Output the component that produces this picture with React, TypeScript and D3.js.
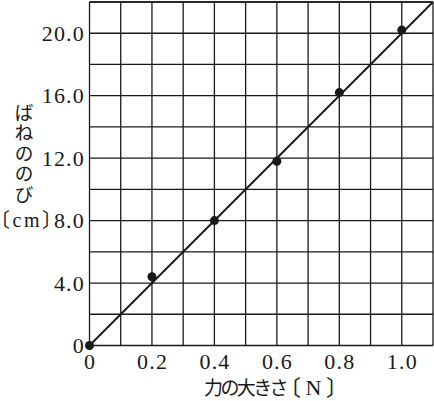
import { useEffect, useRef } from 'react';
import * as d3 from 'd3';

// measured points: force [N] vs spring extension [cm]
const forceN = [0, 0.2, 0.4, 0.6, 0.8, 1.0];
const stretchCm = [0, 4.4, 8.0, 11.8, 16.2, 20.2];
// fitted straight line (drawn through the origin)
const lineForce = [0, 1.1];
const lineStretch = [0, 22];

const xTicks = [0, 0.2, 0.4, 0.6, 0.8, 1.0];
const xTickLabels = ['0', '0.2', '0.4', '0.6', '0.8', '1.0'];
const yTicks = [0, 4, 8, 12, 16, 20];
const yTickLabels = ['0', '4.0', '8.0', '12.0', '16.0', '20.0'];
const xGrid = d3.range(0, 12).map(i => i / 10);
const yGrid = d3.range(0, 24, 2);

const yTitle = 'ばねののび';
const yUnit = '〔cm〕';
const xTitle = '力の大きさ';
const xUnit = '〔N〕';

const SERIF = '"Liberation Serif", serif';
const MIXED = '"Liberation Serif", "Noto Sans CJK JP", serif';
const JP = '"Noto Sans CJK JP", sans-serif';
const INK = '#1a1a1a';

export default function App() {
  const svgRef = useRef<SVGSVGElement>(null);

  useEffect(() => {
    document.body.style.margin = '0';
    const width = 434;
    const height = 401;

    const x = d3.scaleLinear().domain([0, 1.1]).range([89.5, 433]);
    const y = d3.scaleLinear().domain([0, 22]).range([345.5, 2]);

    const svg = d3.select(svgRef.current);
    svg.selectAll('*').remove();
    svg.attr('width', width).attr('height', height);

    // Grid
    const grid = svg.append('g').attr('stroke', INK).attr('stroke-width', 1.3);
    grid
      .selectAll('line.v')
      .data(xGrid)
      .enter()
      .append('line')
      .attr('x1', d => x(d))
      .attr('x2', d => x(d))
      .attr('y1', y(0))
      .attr('y2', y(22));
    grid
      .selectAll('line.h')
      .data(yGrid.concat([22]))
      .enter()
      .append('line')
      .attr('x1', x(0))
      .attr('x2', x(1.1))
      .attr('y1', d => y(d))
      .attr('y2', d => y(d));

    // Fitted line
    const line = d3
      .line<number>()
      .x(d => x(lineForce[d]))
      .y(d => y(lineStretch[d]));
    svg
      .append('path')
      .attr('d', line([0, 1]))
      .attr('fill', 'none')
      .attr('stroke', INK)
      .attr('stroke-width', 2);

    // Points
    svg
      .append('g')
      .selectAll('circle')
      .data(forceN)
      .enter()
      .append('circle')
      .attr('cx', d => x(d))
      .attr('cy', (_, i) => y(stretchCm[i]))
      .attr('r', 4.5)
      .attr('fill', INK);

    // Y tick labels
    svg
      .append('g')
      .selectAll('text')
      .data(yTicks)
      .enter()
      .append('text')
      .attr('x', 85)
      .attr('y', d => y(d))
      .attr('dy', '0.34em')
      .attr('text-anchor', 'end')
      .attr('font-family', SERIF)
      .attr('font-size', 22)
      .attr('letter-spacing', 1.2)
      .attr('fill', INK)
      .text((_, i) => yTickLabels[i]);

    // X tick labels
    svg
      .append('g')
      .selectAll('text')
      .data(xTicks)
      .enter()
      .append('text')
      .attr('x', d => x(d) + 0.6)
      .attr('y', 369)
      .attr('text-anchor', 'middle')
      .attr('font-family', SERIF)
      .attr('font-size', 22)
      .attr('letter-spacing', 1.2)
      .attr('fill', INK)
      .text((_, i) => xTickLabels[i]);

    // Y title, written top to bottom
    svg
      .append('text')
      .attr('x', 24)
      .attr('y', 103)
      .attr('writing-mode', 'vertical-rl')
      .attr('font-family', JP)
      .attr('font-size', 19)
      .attr('letter-spacing', 1.5)
      .attr('fill', INK)
      .text(yTitle);

    // half-width brackets keep the unit compact
    svg
      .append('text')
      .attr('x', 0)
      .attr('y', 227)
      .attr('font-family', MIXED)
      .attr('font-size', 20)
      .attr('letter-spacing', 2.5)
      .style('font-feature-settings', '"halt"')
      .attr('fill', INK)
      .text(yUnit);

    // X title
    const xt = svg
      .append('text')
      .attr('x', 204)
      .attr('y', 395)
      .attr('fill', INK);
    xt.append('tspan')
      .attr('font-family', JP)
      .attr('font-size', 19)
      .attr('letter-spacing', -2.6)
      .text(xTitle);
    xt.append('tspan')
      .attr('dx', 4)
      .attr('font-family', MIXED)
      .attr('font-size', 22)
      .attr('letter-spacing', 4.5)
      .style('font-feature-settings', '"halt"')
      .text(xUnit);
  }, []);

  return <svg ref={svgRef} style={{ display: 'block' }}></svg>;
}
